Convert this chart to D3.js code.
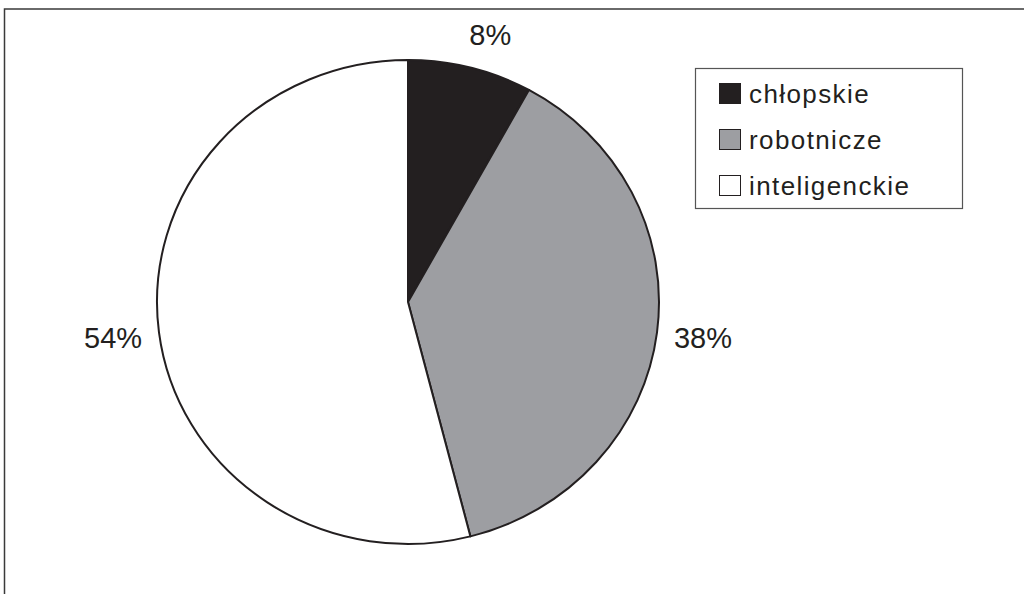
<!DOCTYPE html>
<html>
<head>
<meta charset="utf-8">
<script src="https://cdn.jsdelivr.net/npm/d3@7"></script>
<style>
  html, body { margin: 0; padding: 0; background: #fff; }
  svg { display: block; }
  text { font-family: "Liberation Sans", Arial, sans-serif; fill: #231f20; }
</style>
</head>
<body>
<svg id="chart" width="1024" height="594"></svg>
<script>
const categories = ["chłopskie", "robotnicze", "inteligenckie"];
const values = [8, 38, 54];
const labels = ["8%", "38%", "54%"];
const colors = ["#231f20", "#9d9ea2", "#ffffff"];

const W = 1024, H = 594;
const svg = d3.select("#chart");

// outer frame (top and left edges visible)
svg.append("path")
  .attr("d", "M4.5,594 L4.5,9 L1024,9")
  .attr("fill", "none")
  .attr("stroke", "#3a3a3a")
  .attr("stroke-width", 1.5);

const cx = 408, cy = 302, rx = 251, ry = 242;
const sy = ry / rx;

const pie = d3.pie().sort(null).value(d => d)(values);
const arc = d3.arc().innerRadius(0).outerRadius(rx);

const g = svg.append("g").attr("transform", `translate(${cx},${cy}) scale(1,${sy})`);
g.selectAll("path.slice")
  .data(pie)
  .join("path")
  .attr("class", "slice")
  .attr("d", arc)
  .attr("fill", (d, i) => colors[i])
  .attr("stroke", "#231f20")
  .attr("stroke-width", 2)
  .attr("stroke-linejoin", "round")
  .attr("vector-effect", "non-scaling-stroke");

// percentage labels outside the ellipse
const fs = 29, capH = fs * 0.716, gap = 17;
const clamp = v => Math.max(-1, Math.min(1, v));
svg.selectAll("text.pct")
  .data(pie)
  .join("text")
  .attr("class", "pct")
  .attr("font-size", fs)
  .attr("text-anchor", "middle")
  .text((d, i) => labels[i])
  .each(function(d) {
    const a = (d.startAngle + d.endAngle) / 2;
    const s = Math.sin(a), c = Math.cos(a);
    const px = cx + rx * s, py = cy - ry * c;
    const w = this.getComputedTextLength();
    const h = 32;
    const x = px + gap * s + (w / 2) * clamp(s * 3);
    const yc = py - gap * c - (h / 2) * clamp(c * 2);
    d3.select(this).attr("x", x).attr("y", yc + capH / 2 - 1);
  });

// legend
const lg = svg.append("g");
lg.append("rect")
  .attr("x", 695.5).attr("y", 68.5)
  .attr("width", 267).attr("height", 140)
  .attr("fill", "#fff")
  .attr("stroke", "#555")
  .attr("stroke-width", 1.2);

const rowY = d3.scalePoint().domain(categories).range([83, 175]);
const item = lg.selectAll("g.item")
  .data(categories)
  .join("g")
  .attr("class", "item")
  .attr("transform", d => `translate(0,${rowY(d)})`);
item.append("rect")
  .attr("x", 719.5).attr("y", 0.5)
  .attr("width", 21).attr("height", 20)
  .attr("fill", (d, i) => colors[i])
  .attr("stroke", "#231f20")
  .attr("stroke-width", 1);
item.append("text")
  .attr("x", 749).attr("y", 20)
  .attr("font-size", 26)
  .attr("letter-spacing", 1.4)
  .text(d => d);
</script>
</body>
</html>
